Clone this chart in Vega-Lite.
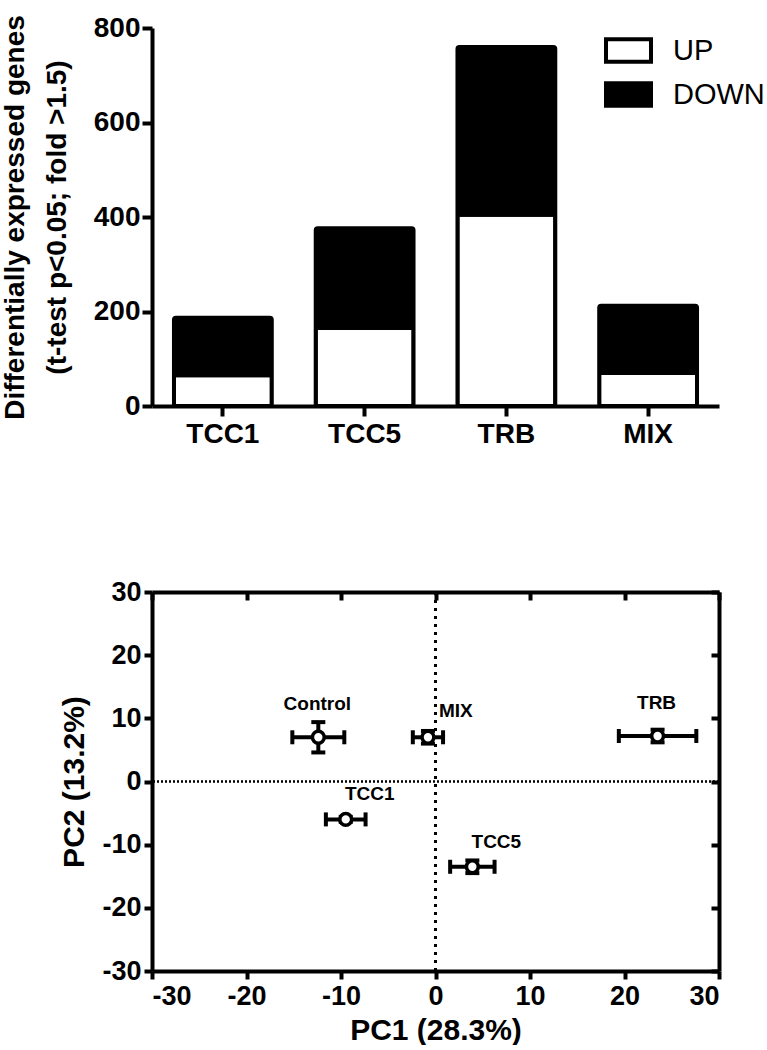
{
  "$schema": "https://vega.github.io/schema/vega-lite/v6.json",
  "background": "white",
  "padding": {"left": 1, "top": 14, "right": 0, "bottom": 0},
  "spacing": 130,
  "config": {
    "view": {"stroke": null},
    "font": "Liberation Sans",
    "axis": {
      "domainColor": "black", "domainWidth": 4, "tickColor": "black", "tickWidth": 4, "tickSize": 9,
      "labelFont": "Liberation Sans", "labelFontWeight": "bold", "labelColor": "black",
      "titleFont": "Liberation Sans", "titleFontWeight": "bold", "titleColor": "black", "grid": false
    }
  },
  "vconcat": [
    {
      "width": 567,
      "height": 378,
      "data": {"values": [
        {"group": "TCC1", "type": "UP", "n": 65}, {"group": "TCC1", "type": "DOWN", "n": 122},
        {"group": "TCC5", "type": "UP", "n": 165}, {"group": "TCC5", "type": "DOWN", "n": 211},
        {"group": "TRB", "type": "UP", "n": 405}, {"group": "TRB", "type": "DOWN", "n": 355},
        {"group": "MIX", "type": "UP", "n": 70}, {"group": "MIX", "type": "DOWN", "n": 142}
      ]},
      "mark": {"type": "bar", "stroke": "black", "strokeWidth": 4, "cornerRadius": 2},
      "encoding": {
        "x": {"field": "group", "type": "nominal", "sort": ["TCC1", "TCC5", "TRB", "MIX"],
          "scale": {"paddingInner": 0.31, "paddingOuter": 0.155},
          "axis": {"title": null, "labelAngle": 0, "labelFontSize": 28, "labelPadding": 4, "tickSize": 10}},
        "y": {"field": "n", "type": "quantitative", "stack": "zero",
          "scale": {"domain": [0, 800], "nice": false},
          "axis": {"values": [0, 200, 400, 600, 800], "title": ["Differentially expressed genes", "(t-test p<0.05; fold >1.5)"],
            "titleFontSize": 28, "titleLineHeight": 42, "labelFontSize": 28, "titlePadding": 22, "tickSize": 10, "labelPadding": 2}},
        "color": {"field": "type", "type": "nominal",
          "scale": {"domain": ["UP", "DOWN"], "range": ["white", "black"]},
          "legend": {"title": null, "orient": "none", "legendX": 452, "legendY": -2, "padding": 0,
            "symbolType": "M-1,-0.5H1V0.5H-1Z", "symbolSize": 2025, "symbolStrokeColor": "black", "symbolStrokeWidth": 4,
            "symbolOpacity": 1, "labelFont": "Liberation Sans", "labelFontSize": 29, "labelColor": "black", "labelOffset": 20, "rowPadding": 0}},
        "order": {"field": "type", "sort": "descending"}
      }
    },
    {
      "width": 567,
      "height": 379,
      "data": {"values": [
        {"label": "Control", "x": -12.4, "y": 7.0, "xlo": -15.15, "xhi": -9.65, "ylo": 4.6, "yhi": 9.4},
        {"label": "MIX", "x": -0.8, "y": 7.0, "xlo": -2.4, "xhi": 0.8, "ylo": 6.0, "yhi": 8.0},
        {"label": "TCC1", "x": -9.5, "y": -6.0, "xlo": -11.6, "xhi": -7.4, "ylo": -6.4, "yhi": -5.6},
        {"label": "TCC5", "x": 3.9, "y": -13.5, "xlo": 1.55, "xhi": 6.25, "ylo": -14.5, "yhi": -12.5},
        {"label": "TRB", "x": 23.5, "y": 7.2, "xlo": 19.4, "xhi": 27.6, "ylo": 6.2, "yhi": 8.2}
      ]},
      "resolve": {"axis": {"x": "independent", "y": "independent"}},
      "layer": [
        {
          "mark": {"type": "rule", "strokeDash": [3, 5], "strokeWidth": 3, "color": "black"},
          "encoding": {"x": {"datum": 0, "type": "quantitative", "scale": {"domain": [-30, 30], "nice": false}, "axis": null}}
        },
        {
          "mark": {"type": "rule", "strokeDash": [2, 2], "strokeWidth": 1.5, "color": "black"},
          "encoding": {"y": {"datum": 0, "type": "quantitative", "scale": {"domain": [-30, 30], "nice": false}, "axis": null}}
        },
        {
          "mark": {"type": "errorbar", "thickness": 4, "size": 14, "color": "black",
            "rule": {"color": "black", "opacity": 1}, "ticks": {"color": "black", "opacity": 1}},
          "encoding": {
            "x": {"field": "xlo", "type": "quantitative", "axis": null},
            "x2": {"field": "xhi"},
            "y": {"field": "y", "type": "quantitative", "axis": null}
          }
        },
        {
          "mark": {"type": "errorbar", "thickness": 4, "size": 14, "color": "black",
            "rule": {"color": "black", "opacity": 1}, "ticks": {"color": "black", "opacity": 1}},
          "encoding": {
            "y": {"field": "ylo", "type": "quantitative", "axis": null},
            "y2": {"field": "yhi"},
            "x": {"field": "x", "type": "quantitative", "axis": null}
          }
        },
        {
          "mark": {"type": "point", "shape": "circle", "size": 140, "filled": true, "fill": "white", "stroke": "black", "strokeWidth": 3.5, "opacity": 1},
          "encoding": {
            "x": {"field": "x", "type": "quantitative", "scale": {"domain": [-30, 30], "nice": false},
              "axis": {"values": [-30, -20, -10, 0, 10, 20, 30], "labelExpr": "'' + datum.value", "title": "PC1 (28.3%)", "titleFontSize": 30, "titlePadding": 6,
                "labelFontSize": 27, "tickSize": 8, "labelPadding": 4}},
            "y": {"field": "y", "type": "quantitative", "scale": {"domain": [-30, 30], "nice": false},
              "axis": {"values": [-30, -20, -10, 0, 10, 20, 30], "labelExpr": "'' + datum.value", "title": "PC2 (13.2%)", "titleFontSize": 30, "titlePadding": 12,
                "labelFontSize": 27, "tickSize": 8, "labelPadding": 3}}
          }
        },
        {
          "transform": [{"filter": {"field": "label", "oneOf": ["Control", "TRB"]}}],
          "mark": {"type": "text", "font": "Liberation Sans", "fontWeight": "bold", "fontSize": 19, "color": "black", "dx": -1, "dy": -33, "baseline": "middle", "align": "center"},
          "encoding": {
            "text": {"field": "label"},
            "x": {"field": "x", "type": "quantitative", "axis": {"orient": "top", "values": [-30, -20, -10, 0, 10, 20, 30], "labels": false, "title": null, "tickSize": -8}},
            "y": {"field": "y", "type": "quantitative", "axis": {"orient": "right", "values": [-30, -20, -10, 0, 10, 20, 30], "labels": false, "title": null, "tickSize": -8}}
          }
        },
        {
          "transform": [{"filter": {"field": "label", "oneOf": ["TCC1", "TCC5"]}}],
          "mark": {"type": "text", "font": "Liberation Sans", "fontWeight": "bold", "fontSize": 19, "color": "black", "dx": 24, "dy": -25, "baseline": "middle", "align": "center"},
          "encoding": {
            "text": {"field": "label"},
            "x": {"field": "x", "type": "quantitative", "axis": null},
            "y": {"field": "y", "type": "quantitative", "axis": null}
          }
        },
        {
          "transform": [{"filter": {"field": "label", "equal": "MIX"}}],
          "mark": {"type": "text", "font": "Liberation Sans", "fontWeight": "bold", "fontSize": 19, "color": "black", "dx": 11, "dy": -26, "baseline": "middle", "align": "left"},
          "encoding": {
            "text": {"field": "label"},
            "x": {"field": "x", "type": "quantitative", "axis": null},
            "y": {"field": "y", "type": "quantitative", "axis": null}
          }
        }
      ]
    }
  ]
}
